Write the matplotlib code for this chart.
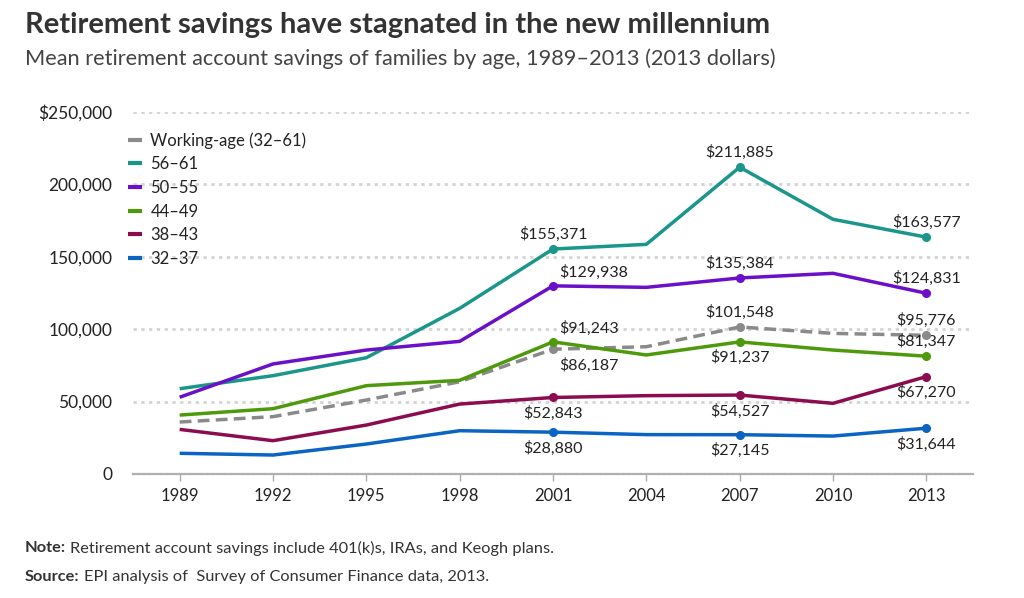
import matplotlib
matplotlib.use("Agg")
import matplotlib.pyplot as plt

plt.rcParams['font.family'] = ['Lato', 'DejaVu Sans']

years = [1989, 1992, 1995, 1998, 2001, 2004, 2007, 2010, 2013]
working_age = [35900, 39600, 51100, 63700, 86187, 87900, 101548, 97100, 95776]
age_56_61 = [58900, 67900, 80300, 114400, 155371, 158600, 211885, 175900, 163577]
age_50_55 = [53000, 76000, 85600, 91600, 129938, 128900, 135384, 138600, 124831]
age_44_49 = [40700, 45100, 61000, 64700, 91243, 82200, 91237, 85600, 81347]
age_38_43 = [30800, 23000, 33800, 48300, 52843, 54100, 54527, 48800, 67270]
age_32_37 = [14300, 13100, 20700, 29900, 28880, 27200, 27145, 26200, 31644]

series_names = ["Working-age (32\u201361)", "56\u201361", "50\u201355", "44\u201349", "38\u201343", "32\u201337"]
series_values = [working_age, age_56_61, age_50_55, age_44_49, age_38_43, age_32_37]
colors = ["#8a8a8a", "#1a968a", "#6a10c8", "#4f9a0c", "#8c0c50", "#0b63c2"]
labeled_years = [2001, 2007, 2013]
# label placement: 'a' above centered, 'b' below centered, 'ar' above right, 'br' below right
placements = [
    ["br", "a", "a"],
    ["a", "a", "a"],
    ["ar", "a", "a"],
    ["ar", "b", "a"],
    ["b", "b", "b"],
    ["b", "b", "b"],
]
y_ticks = [0, 50000, 100000, 150000, 200000, 250000]
y_tick_labels = ["0", "50,000", "100,000", "150,000", "200,000", "$250,000"]

W, H = 1024, 598
fig = plt.figure(figsize=(W / 100, H / 100), dpi=100)
ax = fig.add_axes([133 / W, 1 - 474 / H, (973 - 133) / W, (474 - 112) / H])

ax.set_xlim(1987.5, 2014.5)
ax.set_ylim(0, 250000)

for y in y_ticks[1:]:
    ax.axhline(y, color="#d4d4d4", lw=2.0, linestyle=(0, (1.2, 1.6)), zorder=0)

txtc = "#222222"
lfs = 11.5
for name, vals, col, pl in zip(series_names, series_values, colors, placements):
    ls = (0, (3.4, 1.8)) if name.startswith("Working") else "-"
    ax.plot(years, vals, color=col, lw=2.5, linestyle=ls, label=name,
            solid_capstyle="butt", clip_on=False, zorder=3)
    for yr, p in zip(labeled_years, pl):
        v = vals[years.index(yr)]
        ax.plot([yr], [v], marker="o", ms=5.5, color=col, zorder=4, clip_on=False)
        txt = "${:,}".format(v)
        if p == "a":
            ax.annotate(txt, (yr, v), xytext=(0, 5), textcoords="offset points",
                        ha="center", va="bottom", fontsize=lfs, color=txtc)
        elif p == "b":
            ax.annotate(txt, (yr, v), xytext=(0, -6), textcoords="offset points",
                        ha="center", va="top", fontsize=lfs, color=txtc)
        elif p == "ar":
            ax.annotate(txt, (yr, v), xytext=(4.5, 4), textcoords="offset points",
                        ha="left", va="bottom", fontsize=lfs, color=txtc)
        elif p == "br":
            ax.annotate(txt, (yr, v), xytext=(4.5, -6), textcoords="offset points",
                        ha="left", va="top", fontsize=lfs, color=txtc)

ax.set_xticks(years)
ax.set_xticklabels([str(y) for y in years])
ax.set_yticks(y_ticks)
ax.set_yticklabels(y_tick_labels)
ax.tick_params(axis="x", length=5, width=1, color="#aaaaaa", labelsize=12,
               labelcolor=txtc, pad=5)
ax.tick_params(axis="y", length=0, labelsize=12.5, labelcolor=txtc, pad=15)

for s in ["top", "right", "left"]:
    ax.spines[s].set_visible(False)
ax.spines["bottom"].set_color("#b0b0b0")
ax.spines["bottom"].set_linewidth(1.6)
ax.spines["bottom"].set_linestyle((0, (2, 0.6)))

leg = ax.legend(loc="upper left", bbox_to_anchor=(128 / W, 1 - 132 / H),
                bbox_transform=fig.transFigure, frameon=False, fontsize=12,
                handlelength=0.85, handletextpad=0.5, labelspacing=0.46,
                borderpad=0, borderaxespad=0)
for t in leg.get_texts():
    t.set_color(txtc)
for lh in leg.get_lines():
    lh.set_linestyle("-")
    lh.set_linewidth(3)

fig.text(25 / W, 1 - 25 / H, "Retirement savings have stagnated in the new millennium",
         fontsize=21, fontweight="bold", color="#333333", va="center", ha="left")
fig.text(25 / W, 1 - 59 / H, "Mean retirement account savings of families by age, 1989\u20132013 (2013 dollars)",
         fontsize=15.7, color="#444444", va="center", ha="left")

nfs = 11.8
t1 = fig.text(25 / W, 1 - 548 / H, "Note:", fontsize=nfs, fontweight="bold", color="#333333",
              va="center", ha="left")
t2 = fig.text(25 / W, 1 - 577 / H, "Source:", fontsize=nfs, fontweight="bold", color="#333333",
              va="center", ha="left")
fig.canvas.draw()
r = fig.canvas.get_renderer()
b1 = t1.get_window_extent(r)
b2 = t2.get_window_extent(r)
fig.text((b1.x1 + 4) / W, 1 - 548 / H, "Retirement account savings include 401(k)s, IRAs, and Keogh plans.",
         fontsize=nfs, color="#333333", va="center", ha="left")
fig.text((b2.x1 + 4) / W, 1 - 577 / H, "EPI analysis of  Survey of Consumer Finance data, 2013.",
         fontsize=nfs, color="#333333", va="center", ha="left")

fig.savefig("out.png", dpi=100)
